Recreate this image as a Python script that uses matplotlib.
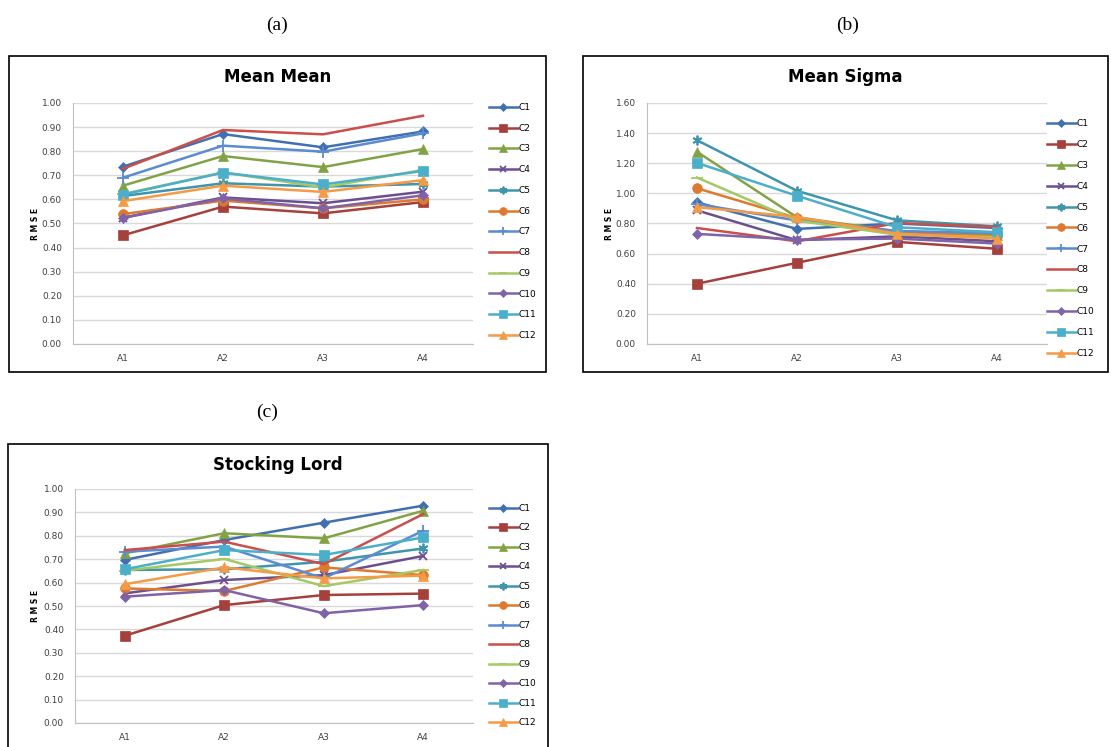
import matplotlib
matplotlib.use("Agg")
import matplotlib.pyplot as plt
from matplotlib.patches import Rectangle

# categorias e series
categorias = ["A1", "A2", "A3", "A4"]
series = ["C1", "C2", "C3", "C4", "C5", "C6", "C7", "C8", "C9", "C10", "C11", "C12"]

# (a) Mean Mean
mean_mean = {
    "C1": [0.736, 0.871, 0.816, 0.882],
    "C2": [0.451, 0.570, 0.542, 0.589],
    "C3": [0.657, 0.780, 0.734, 0.809],
    "C4": [0.524, 0.608, 0.584, 0.632],
    "C5": [0.614, 0.667, 0.653, 0.664],
    "C6": [0.539, 0.595, 0.563, 0.600],
    "C7": [0.690, 0.823, 0.798, 0.874],
    "C8": [0.727, 0.888, 0.870, 0.947],
    "C9": [0.622, 0.712, 0.650, 0.722],
    "C10": [0.523, 0.604, 0.563, 0.617],
    "C11": [0.620, 0.711, 0.662, 0.718],
    "C12": [0.593, 0.657, 0.631, 0.680],
}

# (b) Mean Sigma
mean_sigma = {
    "C1": [0.940, 0.764, 0.800, 0.770],
    "C2": [0.400, 0.539, 0.678, 0.632],
    "C3": [1.276, 0.841, 0.748, 0.722],
    "C4": [0.887, 0.689, 0.715, 0.682],
    "C5": [1.353, 1.017, 0.821, 0.781],
    "C6": [1.034, 0.836, 0.742, 0.715],
    "C7": [0.929, 0.820, 0.750, 0.737],
    "C8": [0.770, 0.682, 0.803, 0.777],
    "C9": [1.105, 0.819, 0.726, 0.709],
    "C10": [0.731, 0.693, 0.700, 0.667],
    "C11": [1.202, 0.984, 0.775, 0.742],
    "C12": [0.909, 0.843, 0.733, 0.700],
}

# (c) Stocking Lord
stocking_lord = {
    "C1": [0.697, 0.782, 0.856, 0.929],
    "C2": [0.373, 0.504, 0.547, 0.553],
    "C3": [0.725, 0.811, 0.789, 0.907],
    "C4": [0.554, 0.611, 0.632, 0.714],
    "C5": [0.654, 0.657, 0.689, 0.746],
    "C6": [0.575, 0.564, 0.665, 0.632],
    "C7": [0.732, 0.754, 0.618, 0.822],
    "C8": [0.739, 0.775, 0.679, 0.893],
    "C9": [0.651, 0.701, 0.585, 0.654],
    "C10": [0.540, 0.568, 0.469, 0.504],
    "C11": [0.657, 0.739, 0.718, 0.793],
    "C12": [0.593, 0.665, 0.618, 0.630],
}

cores = ["#4170B0", "#A5403D", "#82A345", "#6B4F8E", "#3E95AC", "#DC7A2F",
         "#5B8BD0", "#CB4E4A", "#A5C862", "#8062A8", "#4BAFCB", "#F59A45"]
marcadores = ["D", "s", "^", "x", (6, 2, 0), "o", "+", None, "_", "D", "s", "^"]
tamanhos = [5, 7, 7, 6, 7, 7, 8, 0, 8, 5, 7, 7]

W, H = 1111, 747
fig = plt.figure(figsize=(W / 100, H / 100), dpi=100)


def px(x0, y0, x1, y1):
    # converte caixa em pixels (topo-esquerda) para coordenadas da figura
    return [x0 / W, 1 - y1 / H, (x1 - x0) / W, (y1 - y0) / H]


def painel(dados, caixa, area, titulo, ymax, passo, leg_xy, leg_esp):
    bx0, by0, bx1, by1 = caixa
    fig.patches.append(Rectangle((bx0 / W, 1 - by1 / H), (bx1 - bx0) / W, (by1 - by0) / H,
                                 transform=fig.transFigure, fill=False,
                                 edgecolor="black", linewidth=1.2))
    ax = fig.add_axes(px(*area))
    x = list(range(len(categorias)))
    for i, s in enumerate(series):
        ax.plot(x, dados[s], color=cores[i], marker=marcadores[i],
                markersize=tamanhos[i], linewidth=1.8, label=s,
                markeredgewidth=1.3 if marcadores[i] in ("x", "+", "_", (6, 2, 0)) else 0.5)
    ax.set_xlim(-0.5, 3.5)
    ax.set_ylim(0, ymax)
    n = int(round(ymax / passo))
    ticks = [k * passo for k in range(n + 1)]
    ax.set_yticks(ticks)
    ax.set_yticklabels(["%.2f" % t for t in ticks], fontsize=6.5, color="#404040")
    ax.set_xticks(x)
    ax.set_xticklabels(categorias, fontsize=6.5, color="#404040")
    ax.tick_params(length=0, pad=8)
    ax.tick_params(axis="x", pad=7)
    ax.grid(axis="y", color="#D9D9D9", linewidth=1)
    ax.set_axisbelow(True)
    for lado in ["top", "right"]:
        ax.spines[lado].set_visible(False)
    for lado in ["left", "bottom"]:
        ax.spines[lado].set_color("#BFBFBF")
    # titulo do grafico dentro da caixa
    fig.text((bx0 + bx1) / 2 / W, 1 - (by0 + 21) / H, titulo, fontsize=12,
             fontweight="bold", ha="center", va="center")
    fig.text((bx0 + 27) / W, 1 - (area[1] + area[3]) / 2 / H, "R M S E", rotation=90,
             fontsize=5.5, fontweight="bold", ha="center", va="center")
    ax.legend(loc="upper left", bbox_to_anchor=(leg_xy[0] / W, 1 - leg_xy[1] / H),
              bbox_transform=fig.transFigure, frameon=False, fontsize=6.5,
              handlelength=3.2, handletextpad=0.1, labelspacing=leg_esp,
              borderpad=0, borderaxespad=0, markerscale=0.8)
    return ax


fonte_serif = "Liberation Serif"

ax_a = painel(mean_mean, (9, 56, 546, 372), (73, 103, 473, 344), "Mean Mean",
              1.0, 0.1, (489, 103), 1.30)
ax_b = painel(mean_sigma, (583, 56, 1108, 372), (647, 103, 1047, 344), "Mean Sigma",
              1.6, 0.2, (1047, 119), 1.32)
ax_c = painel(stocking_lord, (8, 444, 548, 760), (75, 489, 473, 723), "Stocking Lord",
              1.0, 0.1, (489, 504), 1.16)

fig.text(277 / W, 1 - 25 / H, "(a)", fontsize=14, family=fonte_serif, ha="center", va="center")
fig.text(848 / W, 1 - 25 / H, "(b)", fontsize=14, family=fonte_serif, ha="center", va="center")
fig.text(267 / W, 1 - 412 / H, "(c)", fontsize=14, family=fonte_serif, ha="center", va="center")

fig.savefig("out.png", dpi=100)
